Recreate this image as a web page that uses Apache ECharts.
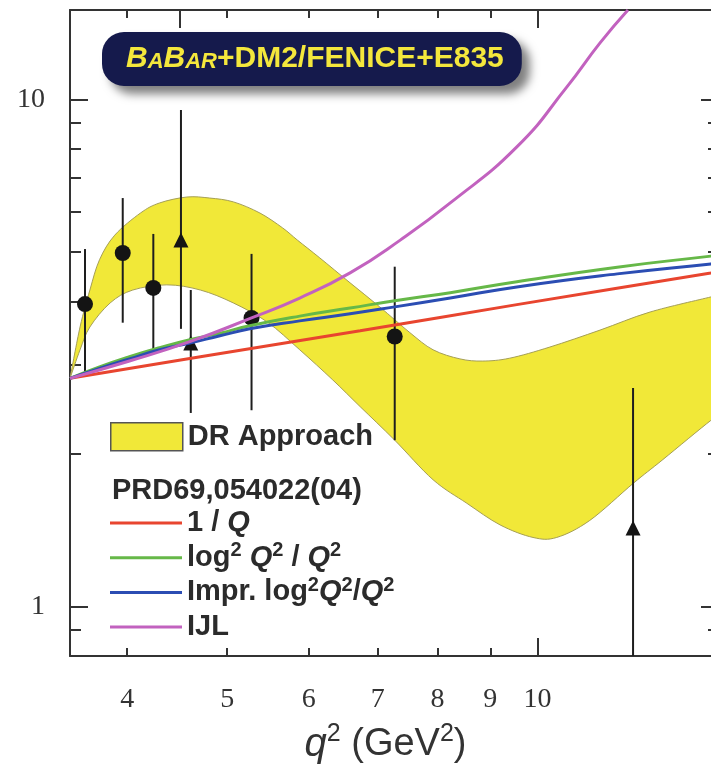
<!DOCTYPE html>
<html><head><meta charset="utf-8">
<script src="https://cdn.jsdelivr.net/npm/echarts@6/dist/echarts.min.js"></script>
<style>html,body{margin:0;padding:0;background:#fff}#c{width:711px;height:771px}</style>
</head><body><div id="c"></div>
<script>
// ---- axes ----
const xMin = 3.52, xMax = 15, yMin = 0.8, yMax = 15;
const xMinorTicks = [4, 5, 6, 7, 8, 9];
const xMajorTicks = [10];
const xTopMajorTicks = [4.5, 10];
const xTickLabels = [4, 5, 6, 7, 8, 9, 10];
const yMinorTicks = [0.9, 2, 3, 4, 5, 6, 7, 8, 9];
const yMajorTicks = [1, 10];
const yTickLabels = [1, 10];

// ---- DR approach band ----
const bandUpperQ2 = [3.52, 3.60, 3.68, 3.76, 3.89, 4.12, 4.30, 4.57, 4.81, 5.07, 5.38, 5.66, 5.85, 6.15, 6.58, 7.03, 7.52, 7.92, 8.41, 8.85, 9.40, 10.28, 11.50, 12.86, 14.73, 15.0];
const bandUpperVal = [2.82, 3.56, 4.21, 4.83, 5.40, 5.97, 6.25, 6.42, 6.39, 6.28, 5.97, 5.58, 5.28, 4.87, 4.35, 3.90, 3.47, 3.21, 3.08, 3.05, 3.09, 3.25, 3.51, 3.81, 4.08, 4.12];
const bandLowerQ2 = [3.52, 3.60, 3.68, 3.85, 4.05, 4.37, 4.71, 5.07, 5.47, 5.88, 6.33, 6.73, 7.27, 7.92, 8.54, 9.20, 9.90, 10.44, 11.24, 12.38, 13.23, 14.73, 15.0];
const bandLowerVal = [2.82, 3.21, 3.56, 3.97, 4.21, 4.31, 4.21, 3.97, 3.64, 3.21, 2.80, 2.48, 2.13, 1.78, 1.60, 1.45, 1.37, 1.37, 1.48, 1.75, 1.95, 2.33, 2.37];

// ---- PRD69,054022(04) curves ----
const invQQ2 = [3.52, 4.71, 6.73, 9.55, 14.73, 15.0];
const invQVal = [2.82, 3.11, 3.50, 3.94, 4.55, 4.58];
const logQ2 = [3.52, 3.76, 4.02, 4.30, 4.60, 4.92, 5.26, 5.88, 6.58, 7.27, 8.23, 9.55, 11.95, 14.73, 15.0];
const logVal = [2.82, 2.97, 3.11, 3.24, 3.36, 3.46, 3.58, 3.74, 3.88, 4.01, 4.16, 4.37, 4.67, 4.91, 4.93];
const imprQ2 = [3.52, 3.76, 4.02, 4.30, 4.60, 4.92, 5.26, 5.88, 6.58, 7.27, 8.23, 9.55, 11.95, 14.73, 15.0];
const imprVal = [2.82, 2.95, 3.08, 3.21, 3.31, 3.42, 3.53, 3.66, 3.78, 3.90, 4.06, 4.27, 4.53, 4.74, 4.76];
const ijlQ2 = [3.52, 4.02, 4.60, 5.28, 5.88, 6.58, 7.36, 8.23, 9.55, 10.68, 11.50, 12.24];
const ijlVal = [2.82, 3.05, 3.33, 3.71, 4.06, 4.55, 5.28, 6.25, 8.06, 10.58, 12.92, 15.0];

// ---- data points ----
const circleQ2 = [3.64, 3.96, 4.24, 5.28, 7.27];
const circleVal = [3.95, 4.98, 4.25, 3.71, 3.41];
const circleLow = [2.88, 3.63, 3.18, 2.44, 2.13];
const circleHigh = [5.07, 6.39, 5.43, 4.96, 4.68];
const triQ2 = [4.51, 4.61, 12.38];
const triVal = [5.28, 3.31, 1.43];
const triLow = [3.53, 2.41, 0.8];
const triHigh = [9.53, 4.21, 2.70];

const C_RED = '#e8452f', C_GREEN = '#66b848', C_BLUE = '#2b4db3', C_PURPLE = '#c262bf', C_BAND = '#f1e838';
const SANS = 'Liberation Sans, Arial, sans-serif';
const SERIF = 'Liberation Serif, Times New Roman, serif';
const AX = '#333';
const TXT = '#2b2b2b';

function catmull(pts) {
  let d = '';
  for (let i = 0; i < pts.length - 1; i++) {
    const p0 = pts[i - 1] || pts[i], p1 = pts[i], p2 = pts[i + 1], p3 = pts[i + 2] || pts[i + 1];
    const c1x = p1[0] + (p2[0] - p0[0]) / 6, c1y = p1[1] + (p2[1] - p0[1]) / 6;
    const c2x = p2[0] - (p3[0] - p1[0]) / 6, c2y = p2[1] - (p3[1] - p1[1]) / 6;
    d += ' C' + c1x + ' ' + c1y + ' ' + c2x + ' ' + c2y + ' ' + p2[0] + ' ' + p2[1];
  }
  return d;
}

function zip(a, b) { return a.map((v, i) => [v, b[i]]); }

const baseX = { type: 'log', logBase: 10, min: xMin, max: xMax, gridIndex: 0, splitLine: { show: false }, minorTick: { show: false } };
const baseY = { type: 'log', logBase: 10, min: yMin, max: yMax, gridIndex: 0, splitLine: { show: false }, minorTick: { show: false } };
const tickStyle = { color: AX, width: 2 };

const legendRich = {
  i: { fontStyle: 'italic', fontWeight: 'bold', fontSize: 29, lineHeight: 34, fontFamily: SANS, color: TXT },
  s: { fontWeight: 'bold', fontSize: 20, lineHeight: 24, verticalAlign: 'top', fontFamily: SANS, color: TXT },
  n: { fontWeight: 'bold', fontSize: 29, lineHeight: 34, fontFamily: SANS, color: TXT }
};
const legendLabels = {
  'invQ': '{n|1 / }{i|Q}',
  'log2': '{n|log}{s|2}{n| }{i|Q}{s|2}{n| / }{i|Q}{s|2}',
  'impr': '{n|Impr. log}{s|2}{i|Q}{s|2}{n|/}{i|Q}{s|2}',
  'IJL': '{n|IJL}'
};

const option = {
  backgroundColor: '#fff',
  animation: false,
  title: [{
    text: '{b1|B}{b2|A}{b1|B}{b2|AR}{t|+DM2/FENICE+E835}',
    left: 102, top: 30,
    backgroundColor: '#151a4c', borderRadius: 22, padding: [12, 18, 12, 24],
    shadowBlur: 10, shadowColor: 'rgba(0,0,0,0.5)', shadowOffsetX: 8, shadowOffsetY: 8,
    textStyle: {
      rich: {
        b1: { fontSize: 30, fontStyle: 'italic', fontWeight: 'bold', fontFamily: SANS, color: '#f4e73c', lineHeight: 34 },
        b2: { fontSize: 22, fontStyle: 'italic', fontWeight: 'bold', fontFamily: SANS, color: '#f4e73c', lineHeight: 34, padding: [6, 0, 0, 0] },
        t: { fontSize: 30, fontWeight: 'bold', fontFamily: SANS, color: '#f4e73c', lineHeight: 34 }
      }
    }
  }, {
    text: 'PRD69,054022(04)', left: 112, top: 476, padding: 0,
    textStyle: { fontSize: 29, fontWeight: 'bold', fontFamily: SANS, color: TXT }
  }],
  legend: [{
    left: 110, top: 422, padding: 0, itemWidth: 72, itemHeight: 28, selectedMode: false,
    data: [{ name: 'DR Approach', icon: 'rect', itemStyle: { color: C_BAND, borderColor: '#555', borderWidth: 1.5 } }],
    textStyle: { fontSize: 29, fontWeight: 'bold', fontFamily: SANS, color: TXT, lineHeight: 28 }
  }, {
    left: 110, top: 506, padding: 0, orient: 'vertical', itemWidth: 72, itemHeight: 3, itemGap: 0.7, selectedMode: false,
    icon: 'rect',
    data: ['invQ', 'log2', 'impr', 'IJL'],
    formatter: name => legendLabels[name],
    textStyle: { fontSize: 29, fontWeight: 'bold', fontFamily: SANS, color: TXT, lineHeight: 34, rich: legendRich }
  }],
  grid: { left: 70, top: 10, width: 649, height: 646, containLabel: false, outerBoundsMode: 'none' },
  xAxis: [
    Object.assign({}, baseX, {
      position: 'bottom',
      axisLine: { show: true, lineStyle: tickStyle },
      axisTick: { show: true, inside: true, length: 8, lineStyle: tickStyle, customValues: xMinorTicks },
      axisLabel: { show: true, customValues: xTickLabels, margin: 30, fontSize: 28, fontFamily: SERIF, color: AX, formatter: v => String(Math.round(v)) },
      name: '{qi|q}{qs|2}{n| (GeV}{qs|2}{n|)}',
      nameLocation: 'middle', nameGap: 66,
      nameTextStyle: {
        padding: [0, 18, 0, 0],
        rich: {
          qi: { fontStyle: 'italic', fontSize: 40, fontFamily: SANS, color: AX, lineHeight: 46 },
          qs: { fontSize: 25, fontFamily: SANS, color: AX, lineHeight: 32, verticalAlign: 'top' },
          n: { fontSize: 38, fontFamily: SANS, color: AX, lineHeight: 46 }
        }
      }
    }),
    Object.assign({}, baseX, {
      position: 'bottom', axisLine: { show: false },
      axisTick: { show: true, inside: true, length: 18, lineStyle: tickStyle, customValues: xMajorTicks },
      axisLabel: { show: false }
    }),
    Object.assign({}, baseX, {
      position: 'top', axisLine: { show: true, lineStyle: tickStyle },
      axisTick: { show: true, inside: true, length: 8, lineStyle: tickStyle, customValues: xMinorTicks },
      axisLabel: { show: false }
    }),
    Object.assign({}, baseX, {
      position: 'top', axisLine: { show: false },
      axisTick: { show: true, inside: true, length: 18, lineStyle: tickStyle, customValues: xTopMajorTicks },
      axisLabel: { show: false }
    })
  ],
  yAxis: [
    Object.assign({}, baseY, {
      position: 'left', axisLine: { show: true, lineStyle: tickStyle },
      axisTick: { show: true, inside: true, length: 11, lineStyle: tickStyle, customValues: yMinorTicks },
      axisLabel: { show: true, customValues: yTickLabels, margin: 25, fontSize: 28, fontFamily: SERIF, color: AX, formatter: v => String(Math.round(v)) }
    }),
    Object.assign({}, baseY, {
      position: 'left', axisLine: { show: false },
      axisTick: { show: true, inside: true, length: 18, lineStyle: tickStyle, customValues: yMajorTicks },
      axisLabel: { show: false }
    }),
    Object.assign({}, baseY, {
      position: 'right', axisLine: { show: true, lineStyle: tickStyle },
      axisTick: { show: true, inside: true, length: 11, lineStyle: tickStyle, customValues: yMinorTicks },
      axisLabel: { show: false }
    }),
    Object.assign({}, baseY, {
      position: 'right', axisLine: { show: false },
      axisTick: { show: true, inside: true, length: 18, lineStyle: tickStyle, customValues: yMajorTicks },
      axisLabel: { show: false }
    })
  ],
  series: [
    {
      name: 'DR Approach', type: 'custom', xAxisIndex: 0, yAxisIndex: 0, z: 1, clip: true,
      itemStyle: { color: C_BAND },
      data: [[bandUpperQ2[0], bandUpperVal[0]]],
      encode: { x: 0, y: 1 },
      renderItem: function (params, api) {
        const up = bandUpperQ2.map((q, i) => api.coord([q, bandUpperVal[i]]));
        const lo = bandLowerQ2.map((q, i) => api.coord([q, bandLowerVal[i]])).reverse();
        const d = 'M' + up[0][0] + ' ' + up[0][1] + catmull(up) + ' L' + lo[0][0] + ' ' + lo[0][1] + catmull(lo) + ' Z';
        return { type: 'path', shape: { pathData: d }, style: { fill: C_BAND, stroke: '#a59f55', lineWidth: 1 } };
      }
    },
    {
      name: 'errors', type: 'custom', xAxisIndex: 0, yAxisIndex: 0, z: 3, clip: true,
      data: zip(circleQ2, circleLow).map((p, i) => [p[0], p[1], circleHigh[i]])
        .concat(zip(triQ2, triLow).map((p, i) => [p[0], p[1], triHigh[i]])),
      encode: { x: 0, y: [1, 2] },
      renderItem: function (params, api) {
        const a = api.coord([api.value(0), api.value(1)]);
        const b = api.coord([api.value(0), api.value(2)]);
        return { type: 'line', shape: { x1: a[0], y1: a[1], x2: b[0], y2: b[1] }, style: { stroke: '#1e1e1e', lineWidth: 2 } };
      }
    },
    {
      name: 'circles', type: 'scatter', z: 4, symbol: 'circle', symbolSize: 16,
      itemStyle: { color: '#141414', opacity: 1 }, data: zip(circleQ2, circleVal)
    },
    {
      name: 'triangles', type: 'scatter', z: 4, symbol: 'triangle', symbolSize: 15,
      itemStyle: { color: '#141414', opacity: 1 }, data: zip(triQ2, triVal)
    },
    { name: 'invQ', type: 'line', z: 5, smooth: true, symbol: 'none', color: C_RED, lineStyle: { color: C_RED, width: 3 }, data: zip(invQQ2, invQVal) },
    { name: 'log2', type: 'line', z: 5, smooth: true, symbol: 'none', color: C_GREEN, lineStyle: { color: C_GREEN, width: 3 }, data: zip(logQ2, logVal) },
    { name: 'impr', type: 'line', z: 5, smooth: true, symbol: 'none', color: C_BLUE, lineStyle: { color: C_BLUE, width: 3 }, data: zip(imprQ2, imprVal) },
    { name: 'IJL', type: 'line', z: 5, smooth: true, symbol: 'none', color: C_PURPLE, lineStyle: { color: C_PURPLE, width: 3 }, data: zip(ijlQ2, ijlVal) }
  ]
};

const chart = echarts.init(document.getElementById('c'), null, { renderer: 'canvas' });
chart.setOption(option);
</script>
</body></html>
